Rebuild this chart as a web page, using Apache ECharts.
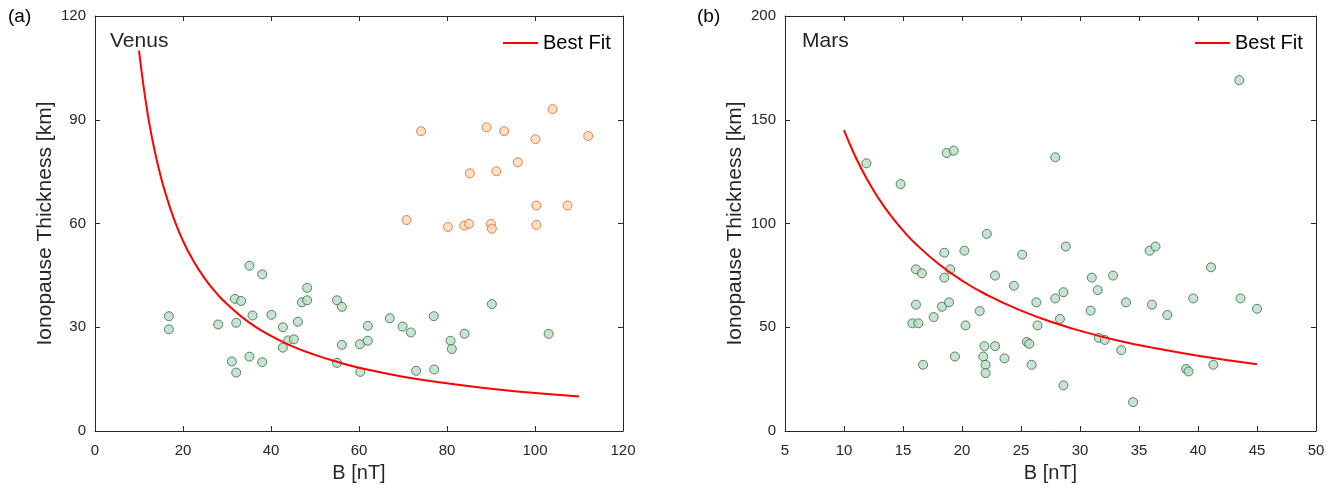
<!DOCTYPE html>
<html>
<head>
<meta charset="utf-8">
<script src="https://cdn.jsdelivr.net/npm/echarts@6/dist/echarts.min.js"></script>
<style>
html,body{margin:0;padding:0;background:#fff;}
#chart{width:1336px;height:488px;}
</style>
</head>
<body>
<div id="chart"></div>
<script>
// Venus – low-B group (green)
const venusGreen = [
  [16.8,33.2],[16.8,29.4],[28.0,30.8],[35.1,47.8],[38.0,45.3],[31.8,38.2],[33.2,37.6],
  [32.1,31.3],[35.8,33.4],[40.1,33.6],[42.7,30.0],[46.1,31.6],[48.2,41.4],[47.0,37.2],
  [48.2,37.8],[43.9,26.2],[45.2,26.5],[42.7,24.1],[31.1,20.1],[32.1,16.9],[35.1,21.5],
  [38.0,19.9],[55.0,37.8],[56.1,35.9],[56.1,24.9],[55.0,19.7],[60.2,25.1],[60.3,17.1],
  [62.0,30.4],[62.0,26.1],[67.0,32.6],[69.9,30.2],[71.8,28.5],[73.0,17.4],[77.0,33.2],
  [77.1,17.8],[80.8,26.1],[81.1,23.7],[84.0,28.1],[90.2,36.7],[103.1,28.1]
];
// Venus – high group (orange)
const venusOrange = [
  [104.0,93.1],[74.1,86.7],[89.0,87.8],[93.0,86.7],[100.1,84.4],[112.1,85.3],[96.1,77.7],
  [85.2,74.5],[91.2,75.1],[100.3,65.2],[107.4,65.2],[70.8,61.0],[80.2,59.0],[83.9,59.4],
  [85.0,59.9],[90.0,59.9],[90.2,58.5],[100.3,59.6]
];
// Venus best-fit curve
const venusFit = [
  [10,110],[11,100],[12,91.5],[13,84.5],[14,78.5],[15,73.3],[16,68.8],[18,61.1],[20,55],
  [22,50],[25,44],[28,39.3],[30,36.7],[35,31.4],[40,27.5],[45,24.4],[50,22],[55,20],
  [60,18.3],[70,15.7],[80,13.8],[90,12.2],[100,11],[110,10]
];
// Mars points
const marsPts = [
  [11.9,129.0],[14.8,119.0],[18.7,134.0],[19.3,135.1],[27.9,131.9],[43.5,169.1],
  [22.1,95.0],[18.5,85.9],[20.2,86.9],[25.1,85.0],[16.1,77.9],[16.6,76.0],[19.0,77.9],
  [18.5,73.9],[22.8,74.9],[24.4,70.0],[16.1,60.9],[18.3,59.9],[18.9,62.0],[21.5,57.8],
  [26.3,62.0],[17.6,54.9],[15.8,51.9],[16.3,51.9],[20.3,50.9],[26.4,50.9],[21.9,40.9],
  [22.8,40.9],[25.5,42.9],[25.7,42.0],[19.4,35.9],[21.8,35.9],[23.6,35.0],[16.7,31.9],
  [22.0,31.9],[25.9,31.9],[22.0,27.9],[28.8,88.9],[35.9,86.9],[36.4,88.9],[41.1,78.9],
  [31.0,73.9],[32.8,74.9],[31.5,67.9],[27.9,63.9],[28.6,66.9],[33.9,62.0],[36.1,60.9],
  [39.6,63.9],[43.6,63.9],[45.0,58.9],[30.9,58.0],[37.4,55.9],[28.3,54.0],[31.6,44.9],
  [32.1,43.9],[33.5,39.0],[39.0,29.9],[39.2,28.7],[41.3,31.9],[28.6,22.0],[34.5,13.9]
];
// Mars best-fit curve
const marsFit = [
  [10,145],[11,131.8],[12,120.8],[13,111.5],[14,103.6],[15,96.7],[16,90.6],[18,80.6],
  [20,72.5],[22,65.9],[25,58],[28,51.8],[30,48.3],[33,43.9],[36,40.3],[40,36.3],[45,32.2]
];

const FONT = 'Liberation Sans, Arial, Helvetica, sans-serif';
const AX = '#262626';
const GREEN = {color:'#bcdcc4', borderColor:'#2d6a47', borderWidth:1};
const ORANGE = {color:'#f6dab6', borderColor:'#e0672a', borderWidth:1};

function mainX(gi, min, max, interval){
  return {gridIndex:gi, type:'value', min, max, interval, position:'bottom',
    name:'B [nT]', nameLocation:'middle', nameGap:32,
    nameTextStyle:{fontFamily:FONT, fontSize:20, color:AX},
    axisLine:{show:true, onZero:false, lineStyle:{color:AX, width:1}},
    axisTick:{show:true, inside:true, length:5, lineStyle:{color:AX}},
    axisLabel:{fontFamily:FONT, fontSize:15, color:AX, margin:12},
    splitLine:{show:false}};
}
function boxX(gi, min, max, interval){
  return {gridIndex:gi, type:'value', min, max, interval, position:'top',
    axisLine:{show:true, onZero:false, lineStyle:{color:AX, width:1}},
    axisTick:{show:true, inside:true, length:5, lineStyle:{color:AX}},
    axisLabel:{show:false}, splitLine:{show:false}};
}
function mainY(gi, min, max, interval){
  return {gridIndex:gi, type:'value', min, max, interval, position:'left',
    name:'Ionopause Thickness [km]', nameLocation:'middle', nameGap:39,
    nameTextStyle:{fontFamily:FONT, fontSize:21, color:AX},
    axisLine:{show:true, onZero:false, lineStyle:{color:AX, width:1}},
    axisTick:{show:true, inside:true, length:5, lineStyle:{color:AX}},
    axisLabel:{fontFamily:FONT, fontSize:15, color:AX, margin:9},
    splitLine:{show:false}};
}
function boxY(gi, min, max, interval){
  return {gridIndex:gi, type:'value', min, max, interval, position:'right',
    axisLine:{show:true, onZero:false, lineStyle:{color:AX, width:1}},
    axisTick:{show:true, inside:true, length:5, lineStyle:{color:AX}},
    axisLabel:{show:false}, splitLine:{show:false}};
}

const chart = echarts.init(document.getElementById('chart'), null, {renderer:'canvas'});
chart.setOption({
  animation:false,
  backgroundColor:'#fff',
  grid:[
    {left:95, top:16, width:528, height:417},
    {left:785, top:16, width:531, height:417}
  ],
  xAxis:[mainX(0,0,120,20), boxX(0,0,120,20), mainX(1,5,50,5), boxX(1,5,50,5)],
  yAxis:[mainY(0,0,120,30), boxY(0,0,120,30), mainY(1,0,200,50), boxY(1,0,200,50)],
  legend:[
    {data:['Best Fit'], left:498, top:28, itemWidth:35, itemHeight:14, itemGap:4,
     icon:'path://M0,6 L35,6 L35,8 L0,8 Z',
     textStyle:{fontFamily:FONT, fontSize:20, color:'#000'}},
    {data:['Best Fit'], left:1190, top:28, itemWidth:35, itemHeight:14, itemGap:4,
     icon:'path://M0,6 L35,6 L35,8 L0,8 Z',
     textStyle:{fontFamily:FONT, fontSize:20, color:'#000'}}
  ],
  graphic:[
    {type:'text', left:8, top:7, style:{text:'(a)', font:'19px '+FONT, fill:'#000'}},
    {type:'text', left:697, top:7, style:{text:'(b)', font:'19px '+FONT, fill:'#000'}},
    {type:'text', left:110, top:31, style:{text:'Venus', font:'21px '+FONT, fill:'#262626'}},
    {type:'text', left:802, top:31, style:{text:'Mars', font:'21px '+FONT, fill:'#262626'}}
  ],
  series:[
    {type:'scatter', name:'Venus low', xAxisIndex:0, yAxisIndex:0, data:venusGreen,
     symbolSize:9, itemStyle:GREEN},
    {type:'scatter', name:'Venus high', xAxisIndex:0, yAxisIndex:0, data:venusOrange,
     symbolSize:9, itemStyle:ORANGE},
    {type:'line', name:'Best Fit', xAxisIndex:0, yAxisIndex:0, data:venusFit,
     smooth:true, showSymbol:false, symbol:'none', lineStyle:{color:'#ff0000', width:2},
     itemStyle:{color:'#ff0000'}, z:5},
    {type:'scatter', name:'Mars', xAxisIndex:2, yAxisIndex:2, data:marsPts,
     symbolSize:9, itemStyle:GREEN},
    {type:'line', name:'Best Fit', xAxisIndex:2, yAxisIndex:2, data:marsFit,
     smooth:true, showSymbol:false, symbol:'none', lineStyle:{color:'#ff0000', width:2},
     itemStyle:{color:'#ff0000'}, z:5}
  ]
});
</script>
</body>
</html>
